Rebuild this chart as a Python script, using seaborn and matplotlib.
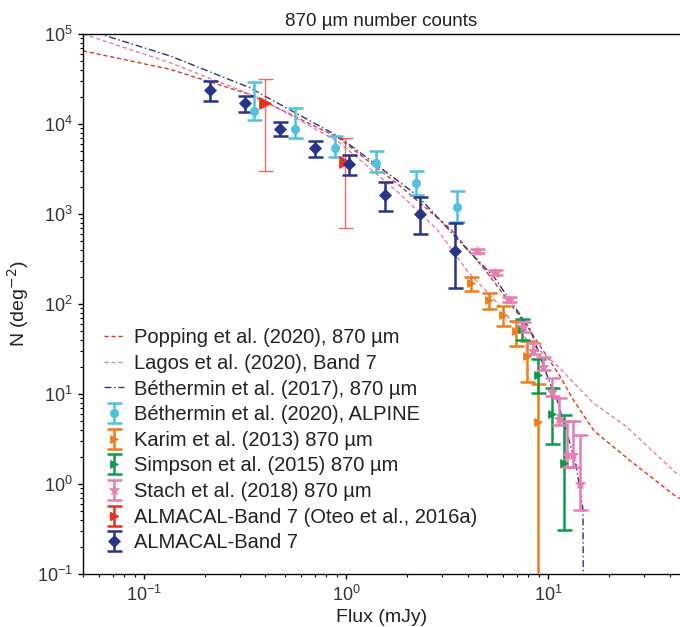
import numpy as np
import pandas as pd
import matplotlib
matplotlib.use("Agg")
import matplotlib.pyplot as plt
import seaborn as sns

# ---------------- data ----------------
# Model curves
popping_x = [0.05, 0.135, 0.333, 0.921, 1.81, 3.31, 5.0, 7.87, 11.46, 13.3, 16.7, 17.3, 26.2, 42.7, 45.0]
popping_y = [65000, 40500, 21400, 7000, 2140, 676, 223, 57, 15.8, 8.7, 4.05, 3.72, 1.73, 0.735, 0.69]

lagos_x = [0.05, 0.135, 0.373, 0.921, 1.81, 2.85, 4.0, 5.4, 7.87, 11.03, 16.7, 24.3, 42.7, 45.0]
lagos_y = [100000, 48000, 19500, 6300, 1750, 660, 230, 113, 40, 21, 8.0, 4.4, 1.34, 1.25]

beth17_x = [0.05, 0.0614, 0.135, 0.333, 0.921, 1.81, 2.27, 3.70, 5.4, 8.16, 10.2, 11.0, 12.3, 13.8, 14.9, 15.0]
beth17_y = [118000, 99300, 57000, 25400, 7250, 2330, 1585, 481, 200, 52.3, 13.4, 9.0, 4.0, 1.58, 0.52, 0.01]

# Observations
alpine_x = [0.349, 0.56, 0.887, 1.41, 2.23, 3.54]
alpine_y = [13900, 8900, 5410, 3690, 2230, 1210]
alpine_hi = [29300, 14900, 7360, 4980, 2980, 1800]
alpine_lo = [11100, 6940, 4270, 2930, 1610, 810]

karim_x = [4.15, 5.1, 6.0, 6.97, 7.87, 8.9]
karim_y = [170, 111, 76, 50, 26.4, 4.9]
karim_hi = [200, 132, 94, 65, 38.5, 13.0]
karim_lo = [138, 87, 56.5, 34, 13.6, 0.001]

simpson_x = [7.43, 8.9, 10.43, 11.98]
simpson_y = [52.3, 16.1, 5.95, 1.73]
simpson_hi = [67.6, 24.3, 11.6, 5.84]
simpson_lo = [39.5, 10.2, 2.81, 0.308]

stach_x = [4.47, 5.46, 6.4, 7.52, 8.41, 9.42, 10.43, 11.28, 12.35, 13.3, 14.46]
stach_y = [392, 223, 111, 56, 30, 20.2, 10.4, 5.33, 2.08, 2.08, 1.01]
stach_hi = [413, 237, 120, 63.7, 36.9, 25.8, 14.9, 8.96, 5.0, 5.0, 3.48]
stach_lo = [372, 208, 104, 49.3, 27.6, 18.5, 9.5, 4.53, 1.56, 1.56, 0.51]

oteo_x = [0.40, 0.99]
oteo_y = [17300, 3780]
oteo_hi = [31400, 6990]
oteo_lo = [3000, 706]

almacal_x = [0.212, 0.315, 0.472, 0.700, 1.04, 1.56, 2.32, 3.45]
almacal_y = [23900, 16900, 8900, 5400, 3600, 1610, 1010, 390]
almacal_hi = [30100, 20500, 10500, 6470, 4490, 2270, 1550, 795]
almacal_lo = [17900, 13600, 7300, 4300, 2710, 1080, 600, 150]

labels = [
    "Popping et al. (2020), 870 µm",
    "Lagos et al. (2020), Band 7",
    "Béthermin et al. (2017), 870 µm",
    "Béthermin et al. (2020), ALPINE",
    "Karim et al. (2013) 870 µm",
    "Simpson et al. (2015) 870 µm",
    "Stach et al. (2018) 870 µm",
    "ALMACAL-Band 7 (Oteo et al., 2016a)",
    "ALMACAL-Band 7",
]

C_RED = "#e8321e"
C_PINK = "#e87db2"
C_NAVY = "#26358a"
C_BLUE = "#4ec3e0"
C_ORANGE = "#f07d14"
C_GREEN = "#0a9a4a"

# ---------------- style ----------------
sns.set_theme(style="ticks")
plt.rcParams["font.family"] = ["Liberation Sans", "DejaVu Sans"]
plt.rcParams["axes.edgecolor"] = "black"
plt.rcParams["axes.linewidth"] = 1.0

fig = plt.figure(figsize=(6.8, 6.27), dpi=100)
ax = fig.add_axes([83 / 680, 53 / 627, 597 / 680, 540 / 627])
ax.set_xscale("log")
ax.set_yscale("log")

def model(xs, ys, color, ls, lw=1.0):
    df = pd.DataFrame({"x": xs, "y": ys})
    sns.lineplot(data=df, x="x", y="y", ax=ax, color=color, linestyle=ls,
                 linewidth=lw, sort=False, estimator=None)
    return ax.lines[-1]

h_pop = model(popping_x, popping_y, C_RED, (0, (3, 2)))
h_lag = model(lagos_x, lagos_y, C_PINK, (0, (3, 2)))
h_bet = model(beth17_x, beth17_y, C_NAVY, (0, (5, 2, 1, 2)))

def obs(xs, ys, hi, lo, color, marker, ms, lw=1.8, elw=None, ealpha=1.0):
    xs = np.asarray(xs); ys = np.asarray(ys)
    yerr = np.vstack([ys - np.asarray(lo), np.asarray(hi) - ys])
    e = elw or lw
    c = ax.errorbar(xs, ys, yerr=yerr, fmt=marker, color=color, ms=ms, mec=color,
                    ecolor=color, elinewidth=e, capsize=5.4, capthick=e, zorder=3)
    c[0].set_markeredgewidth(0.5)
    for art in list(c[1]) + list(c[2]):
        art.set_alpha(ealpha)
    return c

h_alp = obs(alpine_x, alpine_y, alpine_hi, alpine_lo, C_BLUE, "o", 6.0)
h_kar = obs(karim_x, karim_y, karim_hi, karim_lo, C_ORANGE, ">", 6)
h_sim = obs(simpson_x, simpson_y, simpson_hi, simpson_lo, C_GREEN, ">", 6)
h_sta = obs(stach_x, stach_y, stach_hi, stach_lo, C_PINK, "*", 7)
obs(oteo_x, oteo_y, oteo_hi, oteo_lo, C_RED, ">", 9, elw=1.0, ealpha=0.7)
h_alm = obs(almacal_x, almacal_y, almacal_hi, almacal_lo, C_NAVY, "D", 6.0)

# legend proxy for Oteo (small marker like the other entries)
h_ote = ax.errorbar([np.nan], [np.nan], yerr=[[np.nan], [np.nan]], fmt=">", color=C_RED,
                    ms=6, mec=C_RED, elinewidth=1.8, capsize=5.4, capthick=1.8)

ax.set_xlim(0.05, 45)
ax.set_ylim(0.1, 1e5)

ax.spines["right"].set_visible(False)
ax.tick_params(axis="both", which="major", direction="out", length=3.5, width=1,
               labelsize=13, colors="black", labelcolor="#333333", pad=4)
ax.tick_params(axis="both", which="minor", direction="out", length=2, width=0.8, colors="black")
ax.tick_params(axis="y", which="both", right=False)

ax.set_xlabel("Flux (mJy)", fontsize=14, color="#222222", labelpad=3)
ax.set_ylabel("N (deg$^{-2}$)", fontsize=14, color="#222222", labelpad=4)
ax.set_title("870 µm number counts", fontsize=13.5, color="#222222", pad=6)

handles = [h_pop, h_lag, h_bet, h_alp, h_kar, h_sim, h_sta, h_ote, h_alm]
leg = ax.legend(handles, labels, loc="lower left", bbox_to_anchor=(0.035, 0.04),
                frameon=False, fontsize=14.5, handlelength=1.0, handletextpad=0.5,
                labelspacing=0.33, borderpad=0, borderaxespad=0)
for t in leg.get_texts():
    t.set_color("#222222")

fig.savefig("out.png", dpi=100)
